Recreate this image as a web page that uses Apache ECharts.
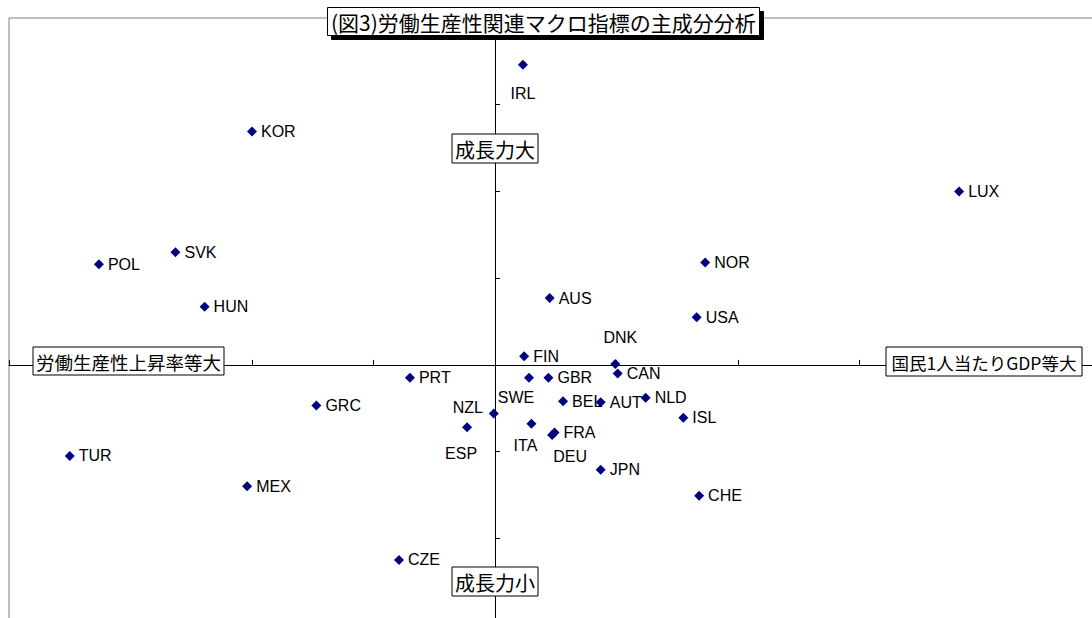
<!DOCTYPE html>
<html lang="ja">
<head>
<meta charset="utf-8">
<title>(図3)労働生産性関連マクロ指標の主成分分析</title>
<script src="https://cdn.jsdelivr.net/npm/echarts@6/dist/echarts.min.js"></script>
<style>
  html, body { margin: 0; padding: 0; background: #fff; }
  #chart { width: 1092px; height: 618px; }
</style>
</head>
<body>
<div id="chart"></div>
<script>
// OECD countries and their principal component scores
const countries = ['IRL', 'KOR', 'LUX', 'POL', 'SVK', 'HUN', 'NOR', 'AUS', 'USA', 'DNK',
  'FIN', 'PRT', 'SWE', 'GBR', 'CAN', 'NZL', 'ESP', 'BEL', 'AUT', 'NLD',
  'ISL', 'ITA', 'FRA', 'DEU', 'JPN', 'CHE', 'GRC', 'TUR', 'MEX', 'CZE'];
// first component: 国民1人当たりGDP等 (right) vs 労働生産性上昇率等 (left)
const pc1 = [0.23, -2.00, 3.82, -3.26, -2.63, -2.39, 1.73, 0.45, 1.66, 0.99,
  0.24, -0.70, 0.28, 0.44, 1.01, -0.01, -0.23, 0.56, 0.87, 1.24,
  1.55, 0.30, 0.49, 0.47, 0.87, 1.68, -1.47, -3.50, -2.04, -0.79];
// second component: 成長力
const pc2 = [3.46, 2.69, 2.00, 1.16, 1.30, 0.67, 1.18, 0.77, 0.55, 0.01,
  0.10, -0.15, -0.15, -0.15, -0.10, -0.56, -0.72, -0.42, -0.43, -0.38,
  -0.61, -0.68, -0.78, -0.81, -1.21, -1.51, -0.47, -1.05, -1.40, -2.25];

// axis ranges in score units
const xRange = [-4, 5];
const yRange = [-3, 4];

// labels that sit away from the usual right-hand spot (pixel offsets from the marker)
const labelShift = {
  IRL: [0, 29], DNK: [5, -26], SWE: [-13, 20], NZL: [-26, -6],
  ESP: [-6, 26], ITA: [-6, 22], DEU: [18, 21]
};

const labelFont = { fontFamily: '"Liberation Sans", Arial, sans-serif', fontSize: 16, color: '#000' };
const jpFont = '"Noto Sans CJK JP", sans-serif';

const points = countries.map((name, i) => {
  const item = { name: name, value: [pc1[i], pc2[i]] };
  if (labelShift[name]) {
    item.label = { position: 'inside', offset: labelShift[name], align: 'center', verticalAlign: 'middle' };
  }
  return item;
});

// boxed captions at the ends of each axis
function caption(text, box, fontSize) {
  return {
    type: 'group',
    z: 20,
    children: [
      { type: 'rect', shape: { x: box[0], y: box[1], width: box[2], height: box[3] },
        style: { fill: '#fff', stroke: '#000', lineWidth: 1 }, z: 20 },
      { type: 'text', x: box[0] + box[2] / 2, y: box[1] + box[3] / 2 + 1, z: 21,
        style: { text: text, fill: '#000', font: fontSize + 'px ' + jpFont,
                 align: 'center', verticalAlign: 'middle',
                 textAlign: 'center', textVerticalAlign: 'middle' } }
    ]
  };
}

const chart = echarts.init(document.getElementById('chart'), null, { renderer: 'svg' });
chart.setOption({
  animation: false,
  backgroundColor: '#fff',
  title: {
    text: '(図3)労働生産性関連マクロ指標の主成分分析',
    left: 327, top: 7,
    padding: [2, 4, 2, 4],
    backgroundColor: '#fff',
    borderColor: '#000', borderWidth: 1,
    shadowColor: '#000', shadowBlur: 0, shadowOffsetX: 4, shadowOffsetY: 4,
    textStyle: { fontFamily: jpFont, fontSize: 21, fontWeight: 'normal', color: '#000', lineHeight: 25 }
  },
  // the plot area runs past the right and bottom edges of the page
  grid: {
    show: true, left: 9, top: 18, width: 1093.5, height: 607,
    outerBoundsMode: 'none', containLabel: false,
    borderColor: '#808080', borderWidth: 1, backgroundColor: 'transparent'
  },
  xAxis: {
    type: 'value', min: xRange[0], max: xRange[1], interval: 1,
    axisLine: { onZero: true, lineStyle: { color: '#000', width: 1 } },
    axisTick: { show: true, inside: true, length: 5, lineStyle: { color: '#000' } },
    axisLabel: { show: false }, splitLine: { show: false }
  },
  yAxis: {
    type: 'value', min: yRange[0], max: yRange[1], interval: 1,
    axisLine: { onZero: true, lineStyle: { color: '#000', width: 1 } },
    axisTick: { show: true, inside: true, length: 5, lineStyle: { color: '#000' } },
    axisLabel: { show: false }, splitLine: { show: false }
  },
  graphic: [
    caption('成長力大', [452, 134, 86, 29], 20),
    caption('成長力小', [452, 567, 86, 29], 20),
    caption('労働生産性上昇率等大', [33, 347, 191, 28], 18.5),
    caption('国民1人当たりGDP等大', [886, 347, 196, 29], 17.5)
  ],
  series: [{
    type: 'scatter',
    symbol: 'diamond',
    symbolSize: 10,
    itemStyle: { color: '#000080', opacity: 1 },
    label: Object.assign({ show: true, position: 'right', distance: 4, formatter: '{b}' }, labelFont),
    data: points
  }]
});
</script>
</body>
</html>
